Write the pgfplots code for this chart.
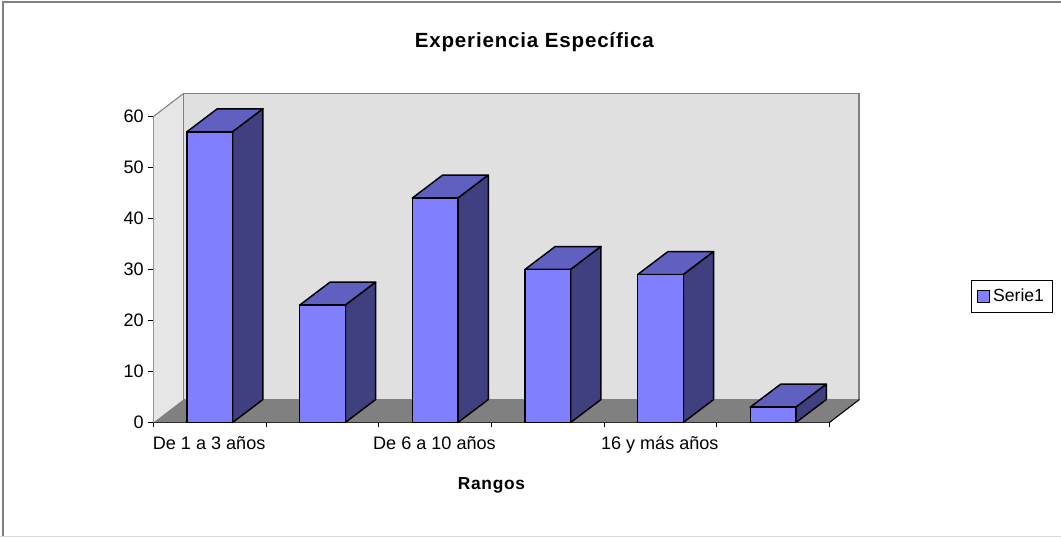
\documentclass[border=0pt]{standalone}
\usepackage{fontspec}
\setmainfont{Liberation Sans}
\newfontfamily\spacedfont[LetterSpace=4]{Liberation Sans}
\usepackage{pgfplots}
\pgfplotsset{compat=1.18}
\definecolor{barfront}{HTML}{8080FF}
\definecolor{bartop}{HTML}{6060C0}
\definecolor{barside}{HTML}{404080}
\definecolor{backwall}{HTML}{E0E0E0}
\definecolor{sidewall}{HTML}{E6E6E6}
\definecolor{floorgray}{HTML}{808080}
\newcommand{\fs}{\fontsize{13.55}{16}\selectfont}
\newcommand{\hw}{0.203}
\newcommand{\dxb}{0.269}
\newcommand{\dyb}{4.5}
\newcommand{\dbar}[2]{%
  \pgfmathsetmacro\xl{#1-\hw}%
  \pgfmathsetmacro\xr{#1+\hw}%
  \pgfmathsetmacro\xlb{#1-\hw+\dxb}%
  \pgfmathsetmacro\xrb{#1+\hw+\dxb}%
  \pgfmathsetmacro\yb{#2+\dyb}%
  \addplot[fill=bartop,draw=black,line width=1.1pt,line join=round,forget plot]
    coordinates {(\xl,#2) (\xlb,\yb) (\xrb,\yb) (\xr,#2)} -- cycle;
  \addplot[fill=barside,draw=black,line width=1.1pt,line join=round,forget plot]
    coordinates {(\xr,0) (\xrb,\dyb) (\xrb,\yb) (\xr,#2)} -- cycle;
}
\begin{document}
\begin{tikzpicture}
\path[use as bounding box] (0,0) rectangle (795.75pt,402.75pt);
\draw[floorgray,line width=1.1pt] (2.2pt,0pt) -- (2.2pt,401.2pt) -- (795.75pt,401.2pt);
\draw[black!15,line width=0.6pt] (0pt,0.2pt) -- (795.75pt,0.2pt);
\begin{axis}[
  at={(115.1pt,85.9pt)}, anchor=south west,
  scale only axis, width=507pt, height=229.5pt,
  xmin=0, xmax=6, ymin=0, ymax=60,
  clip=false,
  axis x line=bottom, axis y line=left,
  axis line style={-,black,line width=0.8pt},
  tick align=outside,
  ytick={0,10,20,30,40,50,60},
  xtick={0.5,2.5,4.5},
  xticklabels={De 1 a 3 años,De 6 a 10 años,16 y más años},
  minor xtick={0,1,2,3,4,5,6},
  major x tick style={draw=none},
  tick style={black,line width=0.8pt},
  major tick length=3.75pt, minor tick length=3.75pt,
  tick label style={font=\fs},
  /pgf/number format/assume math mode=true,
  xticklabel style={yshift=-3.2pt,xshift=-0.5pt},
  xlabel={Rangos},
  xlabel style={font=\fontsize{13}{15}\selectfont\spacedfont\bfseries,at={(axis description cs:0.5,-0.207)},anchor=center},
  title={Experiencia Específica},
  every axis title shift=0pt,
  title style={font=\fontsize{15.4}{17}\selectfont\spacedfont\bfseries,at={(axis description cs:0.5635,1.2435)},anchor=center},
  legend style={at={(axis description cs:1.27,0.4118)},anchor=center,draw=black,line width=0.6pt,
    font=\fontsize{13.2}{16}\selectfont,inner xsep=4.5pt,inner ysep=4.2pt,legend cell align=left},
  legend image code/.code={\draw[#1,draw=black,line width=0.9pt] (0pt,-4.3pt) rectangle (9pt,4.3pt);},
]
% side wall and back wall
\addplot[fill=sidewall,draw=none,forget plot] coordinates {(0,0) (0.266,4.5) (0.266,64.5) (0,60)} -- cycle;
\addplot[fill=backwall,draw=floorgray,line width=1.4pt,forget plot] coordinates {(0.266,4.5) (6.266,4.5) (6.266,64.5) (0.266,64.5)} -- cycle;
\addplot[draw=floorgray,line width=0.8pt,forget plot] coordinates {(0,60) (0.266,64.5)};
% floor
\addplot[fill=floorgray,draw=none,forget plot] coordinates {(0,0) (6,0) (6.266,4.5) (0.266,4.5)} -- cycle;
\addplot[draw=black,line width=0.8pt,forget plot] coordinates {(6,0) (6.266,4.5)};
% bars: depth faces, then front faces
\dbar{0.5}{57}
\dbar{1.5}{23}
\dbar{2.5}{44}
\dbar{3.5}{30}
\dbar{4.5}{29}
\dbar{5.5}{3}
\addplot[ybar,bar width=0.406,bar shift=0pt,fill=barfront,draw=black,line width=1.1pt]
  coordinates {(0.5,57) (1.5,23) (2.5,44) (3.5,30) (4.5,29) (5.5,3)};
\addlegendentry{Serie1}
\end{axis}
\end{tikzpicture}
\end{document}
